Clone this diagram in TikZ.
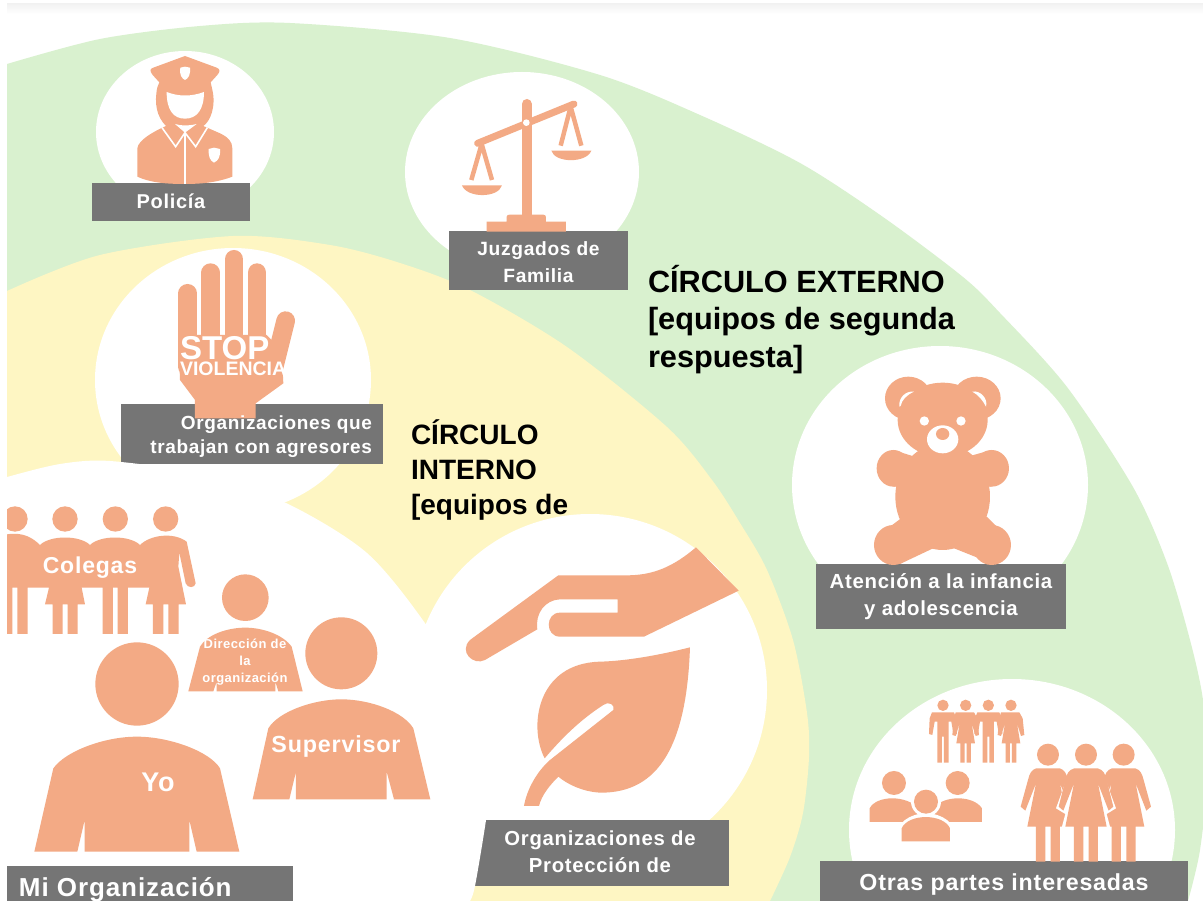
\documentclass[tikz,border=0pt]{standalone}
\usepackage{fontspec}
\setmainfont{Liberation Sans}[LetterSpace=3.5]
\newfontfamily\plainbold{Liberation Sans}
\definecolor{grn}{HTML}{D9F1CF}
\definecolor{yel}{HTML}{FEF6C3}
\definecolor{ora}{HTML}{F3AA85}
\definecolor{gry}{HTML}{757575}
\tikzset{
 every node/.style={inner sep=0pt,outer sep=0pt},
 box/.style={fill=gry,draw=none},
 wt/.style={text=white,font=\bfseries\fontsize{20}{27}\selectfont,align=center},
 hd/.style={text=black,anchor=base west,font=\plainbold\bfseries\fontsize{30.7}{31}\selectfont},
 hi/.style={text=black,anchor=base west,font=\plainbold\bfseries\fontsize{28}{28}\selectfont},
 zoomA/.style={x=0.33333pt,y=-0.33333pt},
}
\begin{document}
\begin{tikzpicture}[x=1pt,y=-1pt]
\useasboundingbox (0,0) rectangle (1203,901);
\fill[white] (0,0) rectangle (1203,901);
\shade[top color=black!5,bottom color=white] (7,4) rectangle (1203,14);
\begin{scope}
\clip (0,0) rectangle (1203,901);
% outer band
\path[fill=grn] plot[smooth] coordinates {(7,64)(100,39)(200,26)(290,23)(450,38)(600,75)(700,115)(800,163)(883,217)(963,277)(1000,313)(1067,387)(1133,487)(1167,563)(1190,640)(1203,700)(1208,770)(1200,850)(1188,901)} -- (7,901) -- cycle;
% inner band
\path[fill=yel] plot[smooth] coordinates {(7,291)(100,255)(233,236)(330,245)(400,263)(470,290)(567,347)(667,427)(712,480)(740,523)(767,570)(793,640)(807,713)(809,757)(803,813)(790,857)(770,901)} -- (7,901) -- cycle;
\end{scope}
% white discs
\fill[white] (185,132) ellipse[x radius=89,y radius=81];
\fill[white] (522,172) ellipse[x radius=117,y radius=100];
\fill[white] (233,380) ellipse[x radius=138,y radius=132];
\fill[white] (940,485) ellipse[x radius=148,y radius=139];
\fill[white] (590,690) ellipse[x radius=177,y radius=176];
\fill[white] (1012,830) ellipse[x radius=163,y radius=151];
% boxes cut by inner white area
\node[box,minimum width=262pt,minimum height=60pt] (agr) at (252,434) {};
\node[box,minimum width=254pt,minimum height=66pt] (prot) at (602,853) {};
\path[fill=white] plot[smooth] coordinates {(0,480)(7,477)(60,464)(110,461)(200,474)(286,503)(367,553)(427,626)(470,700)(490,780)(486,820)(475,886)(470,901)} -- (0,901) -- cycle;
% other boxes
\node[box,minimum width=158pt,minimum height=38pt] (pol) at (171,202) {};
\node[box,minimum width=179pt,minimum height=59pt] (juz) at (538.5,260.5) {};
\node[box,minimum width=250pt,minimum height=65pt] (ate) at (941,596.5) {};
\node[box,minimum width=368pt,minimum height=40pt] (otr) at (1004,881) {};
\node[box,minimum width=286pt,minimum height=35pt] (mio) at (150,883.5) {};
% ---- police
\begin{scope}[zoomA]
 \fill[ora] (555,168) -- (650,203) .. controls (662,208) and (660,215) .. (652,225) -- (632,247) -- (636,265) .. controls (650,320) and (630,365) .. (610,378) -- (660,400) .. controls (685,412) and (697,425) .. (697,445) -- (697,530) .. controls (650,548) and (600,552) .. (555,552) .. controls (500,552) and (450,548) .. (412,530) -- (412,445) .. controls (415,420) and (460,395) .. (498,378) .. controls (470,350) and (462,310) .. (472,262) -- (478,247) -- (458,225) .. controls (448,212) and (450,206) .. (460,203) -- cycle;
 \fill[white] (500,276) .. controls (535,290) and (575,290) .. (612,276) .. controls (612,330) and (590,356) .. (555,356) .. controls (520,356) and (500,330) .. (500,276) -- cycle;
 \fill[white] (525,372) .. controls (545,378) and (565,378) .. (590,372) -- (555,398) -- cycle;
 \draw[white,line width=1.6pt] (486,383) -- (527,440) -- (555,398) -- (587,440) -- (622,383);
 \draw[white,line width=1.6pt] (555,398) -- (555,552);
 \fill[white] (626,447) -- (642,443) -- (660,447) .. controls (662,470) and (655,482) .. (642,488) .. controls (630,482) and (625,470) .. (626,447) -- cycle;
 \fill[white] (541,203) -- (555,200) -- (570,203) .. controls (572,225) and (565,235) .. (555,240) .. controls (545,235) and (538,225) .. (541,203) -- cycle;
\end{scope}
% ---- scales
\begin{scope}[zoomA,shift={(1320,240)}]
 \draw[ora,line width=7pt,line cap=round] (113,190) -- (402,72);
 \draw[ora,line width=10pt,line cap=round] (260,72) -- (260,410);
 \fill[ora] (140,455) -- (140,425) -- (200,425) -- (200,410) .. controls (200,405) and (205,404) .. (210,404) -- (310,404) .. controls (316,404) and (318,408) .. (318,412) -- (318,425) -- (378,425) -- (378,455) -- cycle;
 \fill[white] (259,128) circle[radius=10];
 \draw[ora,line width=4.5pt,line join=round] (94,300) -- (125,192) -- (156,300);
 \draw[ora,line width=4.5pt,line join=round] (362,197) -- (392,80) -- (424,197);
 \fill[ora] (66,316) -- (186,316) .. controls (175,355) and (80,355) .. (66,316) -- cycle;
 \fill[ora] (334,212) -- (454,212) .. controls (440,250) and (345,250) .. (334,212) -- cycle;
\end{scope}
% ---- stop hand
\begin{scope}[zoomA]
 \draw[ora,line width=18.7pt,line cap=round] (563,880) -- (563,1100);
 \draw[ora,line width=18.7pt,line cap=round] (632,818) -- (632,1100);
 \draw[ora,line width=18.7pt,line cap=round] (702,778) -- (702,1100);
 \draw[ora,line width=18.7pt,line cap=round] (771,818) -- (771,1100);
 \draw[ora,line width=18.7pt,line cap=round] (857,962) -- (815,1130);
 \fill[ora] (535,1005) -- (800,1005) -- (845,1050) -- (850,1150) -- (767,1210) -- (767,1255) -- (585,1255) -- (585,1200) -- (540,1140) -- cycle;
\end{scope}
\node[text=white,anchor=west,font=\plainbold\bfseries\fontsize{33}{33}\selectfont] (stop) at (180,348) {STOP};
\node[text=white,anchor=west,font=\plainbold\bfseries\fontsize{19.5}{20}\selectfont] (viol) at (180,369) {VIOLENCIA};
% ---- organization group (Colegas)
\begin{scope}[zoomA,yshift=-480pt]
 \fill[ora] (45,117) circle[radius=38];
 \fill[ora] (195,117) circle[radius=38];
 \fill[ora] (346,117) circle[radius=38];
 \fill[ora] (497,117) circle[radius=38];
 \fill[ora] (21,163) .. controls (70,155) and (100,175) .. (120,195) .. controls (150,165) and (240,165) .. (270,195) .. controls (300,165) and (390,165) .. (420,195) .. controls (450,165) and (520,155) .. (560,185) -- (587,310) .. controls (585,325) and (562,325) .. (557,310) -- (538,218) -- (535,260) -- (558,373) -- (536,373) -- (536,462) -- (505,462) -- (505,373) -- (490,373) -- (490,462) -- (459,462) -- (459,373) -- (437,373) -- (448,323) -- (384,323) -- (384,462) -- (353,462) -- (353,323) -- (339,323) -- (339,462) -- (308,462) -- (308,323) -- (245,323) -- (255,373) -- (233,373) -- (233,462) -- (203,462) -- (203,373) -- (188,373) -- (188,462) -- (158,462) -- (158,373) -- (135,373) -- (147,323) -- (83,323) -- (83,462) -- (52,462) -- (52,323) -- (37,323) -- (37,462) -- (21,462) -- cycle;
 % Direccion
 \fill[ora] (736,353) circle[radius=70];
 \fill[ora] (565,634) -- (600,500) .. controls (620,465) and (680,443) .. (736,443) .. controls (790,443) and (850,465) .. (875,500) -- (908,634) -- (835,634) -- (826,605) -- (826,634) -- (650,634) -- (650,605) -- (640,634) -- cycle;
 % Supervisor
 \fill[ora] (1024,520) circle[radius=108];
 \fill[ora] (758,958) -- (805,745) .. controls (835,695) and (940,658) .. (1024,658) .. controls (1110,658) and (1210,695) .. (1240,745) -- (1291,958) -- (1182,958) -- (1160,875) -- (1160,958) -- (888,958) -- (888,875) -- (868,958) -- cycle;
 % Yo
 \fill[ora] (411,612) circle[radius=125];
 \fill[ora] (103,1115) -- (160,865) .. controls (195,815) and (310,770) .. (411,770) .. controls (510,770) and (630,815) .. (660,865) -- (718,1115) -- (590,1115) -- (568,1020) -- (568,1115) -- (254,1115) -- (254,1020) -- (232,1115) -- cycle;
\end{scope}
% ---- leaf and hand
\begin{scope}[zoomA,shift={(1320,1590)}]
 \fill[ora] (768,52) -- (896,182) -- (612,320) -- (360,320) .. controls (315,320) and (315,248) .. (360,248) -- (533,248) -- (533,208) -- (360,208) .. controls (315,210) and (285,250) .. (292,298) -- (135,390) .. controls (100,408) and (55,365) .. (90,330) -- (355,136) -- (560,136) .. controls (640,136) and (700,110) .. (768,52) -- cycle;
 \fill[ora] (750,352) .. controls (740,640) and (660,790) .. (480,788) .. controls (430,785) and (385,765) .. (355,740) .. controls (330,765) and (305,795) .. (297,828) -- (252,828) .. controls (260,780) and (290,725) .. (330,690) -- (520,540) .. controls (527,525) and (505,512) .. (490,525) .. controls (420,570) and (365,625) .. (314,685) .. controls (265,590) and (290,400) .. (480,395) .. controls (560,393) and (660,375) .. (750,352) -- cycle;
\end{scope}
% ---- teddy
\begin{scope}[zoomA,shift={(2580,1110)}]
 \fill[ora] (145,85) circle[x radius=70,y radius=65];
 \fill[ora] (350,85) circle[x radius=72,y radius=65];
 \fill[ora] (248,150) circle[x radius=135,y radius=112];
 \fill[ora] (248,380) circle[x radius=142,y radius=160];
 \fill[ora] (100,295) circle[x radius=50,y radius=55];
 \fill[ora] (395,295) circle[x radius=52,y radius=55];
 \fill[ora] (100,240) -- (170,262) -- (330,258) -- (395,240) -- (395,350) -- (100,350) -- cycle;
 \fill[ora] (100,525) circle[x radius=58,y radius=60];
 \fill[ora] (395,525) circle[x radius=58,y radius=60];
 \fill[ora] (90,470) -- (130,440) -- (380,440) -- (410,470) -- (400,582) -- (270,530) -- (230,530) -- (120,582) -- cycle;
 \fill[white] (118,110) .. controls (115,85) and (135,62) .. (162,65) .. controls (140,75) and (125,90) .. (122,108) -- cycle;
 \fill[white] (337,65) .. controls (360,60) and (385,85) .. (378,110) .. controls (368,90) and (355,75) .. (337,65) -- cycle;
 \fill[white] (193,153) circle[radius=14];
 \fill[white] (303,153) circle[radius=14];
 \fill[white] (248,208) circle[x radius=47,y radius=42];
 \fill[ora] (248,192) circle[x radius=20,y radius=18];
\end{scope}
% ---- others
\begin{scope}[zoomA,shift={(2520,2040)}]
 \foreach \x in {309,445}{
  \fill[ora] (\x,76) circle[radius=17];
  \fill[ora] (\x-33,97) -- (\x+33,97) -- (\x+40,115) -- (\x+42,162) -- (\x+32,165) -- (\x+25,125) -- (\x+17,125) -- (\x+17,248) -- (\x+3,248) -- (\x+3,170) -- (\x-3,170) -- (\x-3,248) -- (\x-17,248) -- (\x-17,125) -- (\x-25,125) -- (\x-32,165) -- (\x-42,162) -- (\x-40,115) -- cycle;
 }
 \foreach \x in {377,513}{
  \fill[ora] (\x,76) circle[radius=17];
  \fill[ora] (\x-30,97) -- (\x+25,97) -- (\x+35,115) -- (\x+40,165) -- (\x+30,168) -- (\x+18,130) -- (\x+28,190) -- (\x+16,190) -- (\x+16,248) -- (\x+3,248) -- (\x+3,190) -- (\x-3,190) -- (\x-3,248) -- (\x-16,248) -- (\x-16,190) -- (\x-28,190) -- (\x-18,130) -- (\x-30,168) -- (\x-40,165) -- (\x-35,115) -- cycle;
 }
 \fill[ora] (162,309) circle[radius=36];
 \fill[ora] (353,309) circle[radius=36];
 \fill[ora] (89,426) -- (89,385) .. controls (110,345) and (200,345) .. (235,385) -- (235,426) -- cycle;
 \fill[ora] (280,426) -- (280,385) .. controls (310,345) and (400,345) .. (426,385) -- (426,426) -- cycle;
 \fill[white] (258,365) circle[radius=45];
 \fill[white] (258,470) circle[x radius=90,y radius=70];
 \fill[ora] (258,365) circle[radius=36];
 \fill[ora] (185,484) -- (185,445) .. controls (205,400) and (310,400) .. (330,445) -- (330,484) -- cycle;
 \foreach \x in {624,851}{
  \fill[ora] (\x,224) circle[radius=33];
  \fill[ora] (\x-35,265) -- (\x+35,265) .. controls (\x+50,270) and (\x+55,280) .. (\x+60,300) -- (\x+82,380) -- (\x+68,392) -- (\x+36,310) -- (\x+62,440) -- (\x+36,440) -- (\x+36,545) -- (\x+8,545) -- (\x+8,440) -- (\x-8,440) -- (\x-8,545) -- (\x-36,545) -- (\x-36,440) -- (\x-62,440) -- (\x-36,310) -- (\x-68,392) -- (\x-82,380) -- (\x-60,300) .. controls (\x-55,280) and (\x-50,270) .. (\x-35,265) -- cycle;
 }
 \fill[white] (695,256) -- (781,256) -- (828,385) -- (800,402) -- (812,447) -- (664,447) -- (676,402) -- (648,385) -- cycle;
 \fill[ora] (738,224) circle[radius=33];
 \fill[ora] (703,265) -- (773,265) .. controls (790,270) and (795,280) .. (800,300) -- (820,380) -- (806,392) -- (774,310) -- (800,440) -- (774,440) -- (774,545) -- (746,545) -- (746,440) -- (730,440) -- (730,545) -- (702,545) -- (702,440) -- (676,440) -- (702,310) -- (670,392) -- (656,380) -- (676,300) .. controls (681,280) and (686,270) .. (703,265) -- cycle;
\end{scope}
% left margin
\fill[white] (0,0) rectangle (7,901);
% box labels
\node[wt] (tpol) at (171,201) {Policía};
\node[wt,font=\bfseries\fontsize{19.2}{27}\selectfont] (tjuz) at (538.5,262) {Juzgados de\\Familia};
\node[wt,align=right,anchor=east,font=\bfseries\fontsize{19}{24}\selectfont] (tagr) at (372,436.5) {Organizaciones que\\trabajan con agresores};
\node[wt,font=\bfseries\fontsize{20.4}{27}\selectfont] (tate) at (941,596.5) {Atención a la infancia\\y adolescencia};
\node[wt,font=\bfseries\fontsize{20.3}{27}\selectfont] (tpro) at (600,852) {Organizaciones de\\Protección de};
\node[wt,font=\bfseries\fontsize{23.2}{23}\selectfont] (totr) at (1004,884) {Otras partes interesadas};
\node[wt,anchor=west,font=\bfseries\fontsize{26}{26}\selectfont] (tmio) at (19,890) {Mi Organización};
\node[wt,font=\bfseries\fontsize{23}{23}\selectfont] (tcol) at (90,568) {Colegas};
\node[wt,font=\bfseries\fontsize{13}{17}\selectfont] (tdir) at (245,662) {Dirección de\\la\\organización};
\node[wt,font=\bfseries\fontsize{23.3}{23}\selectfont] (tsup) at (336,746) {Supervisor};
\node[wt,font=\bfseries\fontsize{27}{27}\selectfont] (tyo) at (158,782) {Yo};
% headings
\node[hd] (e1) at (648,293) {CÍRCULO EXTERNO};
\node[hd] (e2) at (648,330) {[equipos de segunda};
\node[hd] (e3) at (648,368) {respuesta]};
\node[hi] (i1) at (411,445) {CÍRCULO};
\node[hi] (i2) at (411,479) {INTERNO};
\node[hi] (i3) at (411,514) {[equipos de};
\end{tikzpicture}
\end{document}
